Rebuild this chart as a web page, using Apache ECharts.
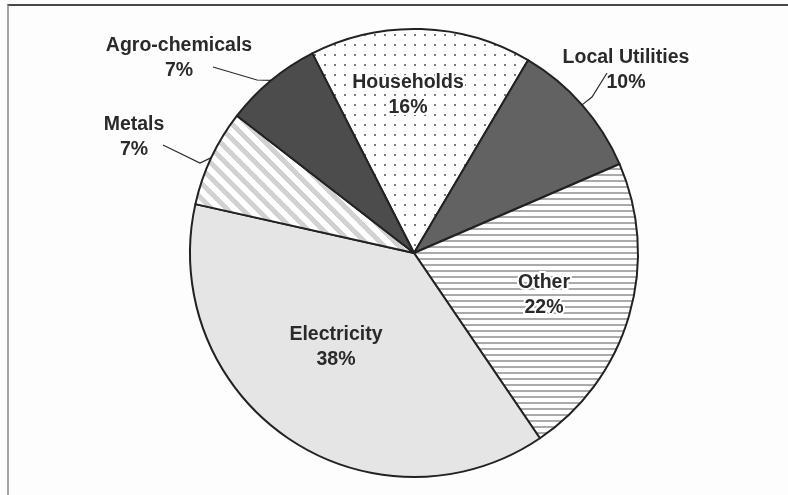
<!DOCTYPE html>
<html>
<head>
<meta charset="utf-8">
<script src="https://cdn.jsdelivr.net/npm/echarts@6/dist/echarts.min.js"></script>
<style>
  html, body { margin: 0; padding: 0; background: #fdfdfd; overflow: hidden; }
  #frame { position: absolute; left: 7px; top: 4px; width: 800px; height: 500px;
           border-top: 2px solid #484848; border-left: 2px solid #a4a4a4; }
  #chart { position: absolute; left: 0; top: 0; width: 788px; height: 495px; }
</style>
</head>
<body>
<div id="frame"></div>
<div id="chart"></div>
<script>
// Shares of total, in percent, clockwise from the top
const sectors = ['Households', 'Local Utilities', 'Other', 'Electricity', 'Metals', 'Agro-chemicals'];
const shares  = [16, 10, 22, 38, 7, 7];

// ---- fill patterns -------------------------------------------------------
function makeCanvas(w, h) {
  const c = document.createElement('canvas');
  c.width = w; c.height = h;
  return c;
}
function dotPattern() {
  const c = makeCanvas(10, 10), g = c.getContext('2d');
  g.fillStyle = '#ffffff'; g.fillRect(0, 0, 10, 10);
  g.fillStyle = '#7a7a7a';
  g.fillRect(4, 4, 2, 2);
  return c;
}
function hStripePattern() {
  const c = makeCanvas(8, 6), g = c.getContext('2d');
  g.fillStyle = '#ffffff'; g.fillRect(0, 0, 8, 6);
  g.fillStyle = '#aaaaaa'; g.fillRect(0, 0, 8, 2);
  return c;
}
function diagStripePattern() {
  const n = 15, c = makeCanvas(n, n), g = c.getContext('2d');
  const img = g.createImageData(n, n);
  for (let y = 0; y < n; y++) {
    for (let x = 0; x < n; x++) {
      const k = ((x - y) % n + n) % n;
      const v = k < 7 ? 0xd2 : 0xff;
      const i = (y * n + x) * 4;
      img.data[i] = img.data[i + 1] = img.data[i + 2] = v;
      img.data[i + 3] = 255;
    }
  }
  g.putImageData(img, 0, 0);
  return c;
}

const fills = [
  { image: dotPattern(), repeat: 'repeat' },
  '#626262',
  { image: hStripePattern(), repeat: 'repeat' },
  '#e5e5e5',
  { image: diagStripePattern(), repeat: 'repeat' },
  '#4c4c4c'
];

// label centres and leader-line shapes (elbow, end) relative to the label centre
const labelAt = [[408, 95], [626, 70], [544, 295], [336, 347], [134, 137], [179, 58]];
const outside = [false, true, false, false, true, true];
const halo    = [true, false, true, false, false, false];
const leader = {
  1: [[-34, 27], [-19, 3]],
  4: [[66, 26], [29, 8]],
  5: [[78, 22], [34, 9]]
};

const chart = echarts.init(document.getElementById('chart'), null, { renderer: 'canvas' });

chart.setOption({
  animation: false,
  series: [{
    type: 'pie',
    center: [414, 253],
    radius: 224,
    startAngle: 117,
    clockwise: true,
    avoidLabelOverlap: false,
    itemStyle: { borderColor: '#222', borderWidth: 2 },
    emphasis: { disabled: true },
    label: {
      formatter: '{b}\n{c}%',
      fontFamily: 'Liberation Sans',
      fontWeight: 'bold',
      fontSize: 19.5,
      lineHeight: 25,
      color: '#2a2a2a',
      align: 'center'
    },
    labelLine: { show: true, lineStyle: { color: '#2a2a2a', width: 1.2 } },
    data: sectors.map((name, i) => ({
      name: name,
      value: shares[i],
      itemStyle: { color: fills[i] },
      label: Object.assign(
        { position: outside[i] ? 'outside' : 'inside' },
        halo[i] ? { textBorderColor: '#ffffff', textBorderWidth: 4 } : {}
      ),
      labelLine: { show: outside[i] }
    })),
    labelLayout: function (p) {
      const i = p.dataIndex;
      const c = labelAt[i];
      const out = { x: c[0], y: c[1], align: 'center', verticalAlign: 'middle' };
      if (leader[i] && p.labelLinePoints) {
        const start = p.labelLinePoints[0];
        out.labelLinePoints = [
          start,
          [c[0] + leader[i][0][0], c[1] + leader[i][0][1]],
          [c[0] + leader[i][1][0], c[1] + leader[i][1][1]]
        ];
      }
      return out;
    }
  }]
});
</script>
</body>
</html>
